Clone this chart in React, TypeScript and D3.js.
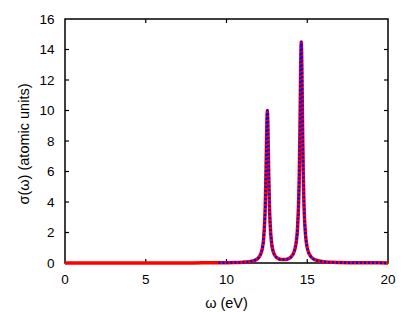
import React from "react";
import * as d3 from "d3";

const omega = [0,1,2,3,4,5,6,7,8,9,9.5,10,10.5,11,11.5,11.8,12.0,12.2,12.3,12.4,12.45,12.5,12.53,12.56,12.6,12.65,12.7,12.8,12.9,13.0,13.2,13.4,13.6,13.8,14.0,14.2,14.3,14.4,14.5,14.55,14.6,14.63,14.66,14.7,14.75,14.8,14.9,15.0,15.2,15.5,16.0,16.5,17,18,19,20];
const sigma = [0.001,0.001,0.001,0.002,0.002,0.003,0.004,0.005,0.008,0.013,0.017,0.022,0.032,0.054,0.108,0.20,0.365,0.865,1.62,3.75,6.13,9.20,10.0,9.21,6.75,4.13,2.61,1.25,0.73,0.49,0.29,0.225,0.222,0.27,0.40,0.78,1.25,2.34,5.42,8.87,13.32,14.5,13.32,9.75,5.96,3.75,1.77,1.00,0.45,0.20,0.084,0.045,0.030,0.016,0.010,0.007];
const xTicks = [0, 5, 10, 15, 20];
const yTicks = [0, 2, 4, 6, 8, 10, 12, 14, 16];
const blueStart = 9.5;

const W = 415, H = 312;
const L = 65, R = 388, T = 19, B = 263;
const font = "'Liberation Sans', Arial, sans-serif";

export default function App() {
  const x = d3.scaleLinear().domain([0, 20]).range([L, R]);
  const y = d3.scaleLinear().domain([0, 16]).range([B, T]);
  const pts = omega.map((o, i) => [o, sigma[i]] as [number, number]);
  const line = d3.line<[number, number]>().x(d => x(d[0])).y(d => y(d[1])).curve(d3.curveMonotoneX);
  const redPath = line(pts) || "";
  const bluePath = line(pts.filter(p => p[0] >= blueStart)) || "";
  const tl = 4;
  return (
    <svg width={W} height={H} style={{ position: "absolute", left: 0, top: 0, background: "#fff" }} fontFamily={font}>
      <rect x={L} y={T} width={R - L} height={B - T} fill="none" stroke="#000" strokeWidth={1.5} />
      {xTicks.slice(1, -1).map(t => (
        <g key={"xt" + t}>
          <line x1={x(t)} x2={x(t)} y1={B} y2={B - tl} stroke="#000" strokeWidth={1.2} />
          <line x1={x(t)} x2={x(t)} y1={T} y2={T + tl} stroke="#000" strokeWidth={1.2} />
        </g>
      ))}
      {yTicks.slice(1, -1).map(t => (
        <g key={"yt" + t}>
          <line x1={L} x2={L + tl} y1={y(t)} y2={y(t)} stroke="#000" strokeWidth={1.2} />
          <line x1={R} x2={R - tl} y1={y(t)} y2={y(t)} stroke="#000" strokeWidth={1.2} />
        </g>
      ))}
      {xTicks.map(t => (
        <text key={"xl" + t} x={x(t)} y={283.5} fontSize={13.5} textAnchor="middle" fill="#000">{t}</text>
      ))}
      {yTicks.map(t => (
        <text key={"yl" + t} x={54.5} y={y(t) + 4.7} fontSize={13.5} textAnchor="end" fill="#000">{t}</text>
      ))}
      <text x={(L + R) / 2} y={307.5} fontSize={14.5} textAnchor="middle" fill="#000">ω (eV)</text>
      <text transform={`translate(29, ${(T + B) / 2 + 3}) rotate(-90)`} fontSize={14.5} textAnchor="middle" fill="#000">σ(ω) (atomic units)</text>
      <path d={redPath} fill="none" stroke="#ff0000" strokeWidth={3.5} strokeLinejoin="round" />
      <path d={bluePath} fill="none" stroke="#0000ff" strokeWidth={2.5} strokeDasharray="2,2" />
    </svg>
  );
}
